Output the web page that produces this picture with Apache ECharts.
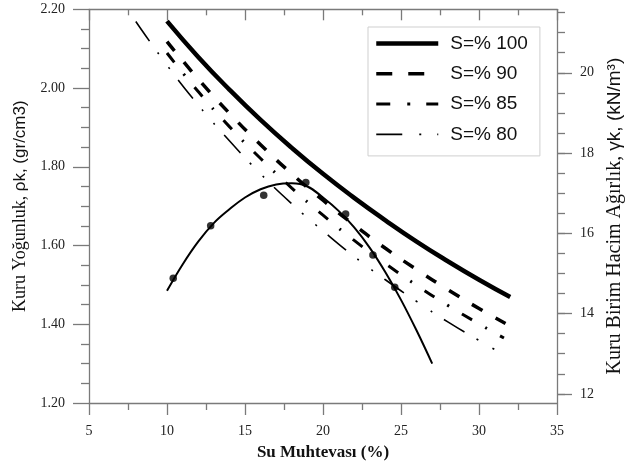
<!DOCTYPE html>
<html>
<head>
<meta charset="utf-8">
<script src="https://cdn.jsdelivr.net/npm/echarts@6/dist/echarts.min.js"></script>
<style>html,body{margin:0;padding:0;background:#fff;}#c{width:627px;height:461px;}</style>
</head>
<body>
<div id="c"></div>
<script>
// ---- data ----
var seriesNames = ['S=% 100', 'S=% 90', 'S=% 85', 'S=% 80'];

var wS100   = [10, 12, 14, 16, 18, 20, 22, 24, 26, 28, 30, 32];
var rhoS100 = [2.170, 2.079, 1.996, 1.919, 1.848, 1.782, 1.721, 1.664, 1.610, 1.560, 1.513, 1.469];

var wS90    = [10, 12, 14, 16, 18, 20, 22, 24, 26, 28, 30, 31.7];
var rhoS90  = [2.118, 2.023, 1.936, 1.856, 1.782, 1.715, 1.652, 1.593, 1.539, 1.488, 1.440, 1.402];

var wS85    = [10, 12, 14, 16, 18, 20, 22, 24, 26, 28, 30, 31.6];
var rhoS85  = [2.089, 1.991, 1.902, 1.821, 1.746, 1.677, 1.613, 1.554, 1.499, 1.448, 1.401, 1.365];

var wS80    = [8, 10, 12, 14, 16, 18, 20, 22, 24, 26, 28, 30, 31];
var rhoS80  = [2.169, 2.058, 1.957, 1.866, 1.782, 1.706, 1.637, 1.572, 1.513, 1.458, 1.406, 1.359, 1.336];

// compaction curve (fitted line) and measured points
var wCurve   = [10, 11, 12, 13, 14, 15, 16, 17, 18, 19, 20, 21, 22, 23, 24, 25, 26, 27];
var rhoCurve = [1.485, 1.552, 1.610, 1.657, 1.692, 1.722, 1.743, 1.755, 1.758, 1.750, 1.722, 1.688, 1.646, 1.594, 1.532, 1.462, 1.384, 1.300];

var wPts   = [10.4, 12.8, 16.2, 18.9, 21.45, 23.2, 24.6];
var rhoPts = [1.517, 1.650, 1.728, 1.760, 1.680, 1.576, 1.494];

var xTicks = [5, 10, 15, 20, 25, 30, 35];
var yLeftTicks = [1.20, 1.40, 1.60, 1.80, 2.00, 2.20];
var yRightTicks = [12, 14, 16, 18, 20];
var yRightMinor = [12, 12.5, 13, 13.5, 14, 14.5, 15, 15.5, 16, 16.5, 17, 17.5, 18, 18.5, 19, 19.5, 20, 20.5, 21, 21.5];

function pairs(xs, ys) { return xs.map(function (x, i) { return [x, ys[i]]; }); }

var axisGray = '#7a7a7a';
var serif = '"Liberation Serif","Times New Roman",serif';
var sans = '"Liberation Sans",Arial,sans-serif';
var rhoMin = 1.2, rhoMax = 2.2, g = 9.81;

var seriesStyles = [
  { width: 4.5, type: 'solid' },
  { width: 3.5, type: [12, 15] },
  { width: 3, type: [12, 15, 2, 15] },
  { width: 1.6, type: [24, 14, 2, 16, 2, 14] }
];
var legendStyles = [
  { width: 4.5, type: 'solid' },
  { width: 3.5, type: [16, 16] },
  { width: 3, type: [14, 17, 3, 16] },
  { width: 1.6, type: [26, 17, 2, 16, 2, 20] }
];

var chart = echarts.init(document.getElementById('c'));
chart.setOption({
  animation: false,
  backgroundColor: '#fff',
  grid: { left: 89, right: 70, top: 9.3, bottom: 58, containLabel: false, outerBoundsMode: 'none' },
  legend: {
    data: seriesNames.map(function (n, i) {
      return { name: n, lineStyle: { width: legendStyles[i].width, type: legendStyles[i].type, color: '#000' },
               itemStyle: { opacity: 0 } };
    }),
    orient: 'vertical',
    left: 368, top: 27,
    padding: [7, 12, 12, 6],
    itemWidth: 62, itemHeight: 14, itemGap: 11.3,
    borderColor: '#cfcfcf', borderWidth: 1,
    backgroundColor: '#fff',
    itemStyle: { opacity: 0 },
    textStyle: { fontFamily: sans, fontSize: 19, color: '#111', padding: [0, 0, 0, 7] }
  },
  xAxis: [{
    type: 'value', min: xTicks[0], max: xTicks[xTicks.length - 1], interval: 5,
    name: 'Su Muhtevası (%)', nameLocation: 'middle', nameGap: 41,
    nameTextStyle: { fontFamily: serif, fontSize: 17, fontWeight: 'bold', color: '#111' },
    axisLine: { lineStyle: { color: axisGray, width: 1.3 } },
    axisTick: { length: 12, lineStyle: { color: axisGray, width: 1.3 } },
    minorTick: { show: true, splitNumber: 2, length: 7, lineStyle: { color: axisGray, width: 1.3 } },
    axisLabel: { fontFamily: serif, fontSize: 14, color: '#222', margin: 21 },
    splitLine: { show: false }
  }, {
    type: 'value', position: 'top', min: xTicks[0], max: xTicks[xTicks.length - 1], interval: 5,
    axisLine: { lineStyle: { color: axisGray, width: 1.3 } },
    axisTick: { inside: true, length: 11, lineStyle: { color: axisGray, width: 1.3 } },
    minorTick: { show: true, splitNumber: 2, length: 6, lineStyle: { color: axisGray, width: 1.3 } },
    axisLabel: { show: false },
    splitLine: { show: false }
  }],
  yAxis: [{
    type: 'value', position: 'left', min: rhoMin, max: rhoMax, interval: 0.2,
    name: '{a|Kuru Yoğunluk, }{b|ρk, (gr/cm3)}', nameLocation: 'middle', nameGap: 58, nameRotate: 90,
    nameTextStyle: { rich: {
      a: { fontFamily: serif, fontSize: 18, color: '#111' },
      b: { fontFamily: sans, fontSize: 17, color: '#111' } } },
    axisLine: { lineStyle: { color: axisGray, width: 1.3 } },
    axisTick: { length: 16, lineStyle: { color: axisGray, width: 1.3 } },
    minorTick: { show: true, splitNumber: 4, length: 8, lineStyle: { color: axisGray, width: 1.3 } },
    axisLabel: { fontFamily: serif, fontSize: 14, color: '#222', margin: 24,
      formatter: function (v) { return v.toFixed(2); } },
    splitLine: { show: false }
  }, {
    type: 'value', position: 'right', min: rhoMin * g, max: rhoMax * g,
    name: '{a|Kuru Birim Hacim Ağırlık, }{b|γk, (kN/m³)}', nameLocation: 'middle', nameGap: 45, nameRotate: 90,
    nameTextStyle: { padding: [0, 20, 0, 0], rich: {
      a: { fontFamily: serif, fontSize: 20, color: '#111' },
      b: { fontFamily: sans, fontSize: 19, color: '#111' } } },
    axisLine: { lineStyle: { color: axisGray, width: 1.3 } },
    axisTick: { length: 15, customValues: yRightTicks, lineStyle: { color: axisGray, width: 1.3 } },
    axisLabel: { fontFamily: serif, fontSize: 14, color: '#222', margin: 23, customValues: yRightTicks },
    splitLine: { show: false }
  }, {
    type: 'value', position: 'right', min: rhoMin * g, max: rhoMax * g,
    axisLine: { show: false },
    axisTick: { length: 8, customValues: yRightMinor, lineStyle: { color: axisGray, width: 1.3 } },
    axisLabel: { show: false },
    splitLine: { show: false }
  }],
  series: [
    { wArr: wS100, rArr: rhoS100 }, { wArr: wS90, rArr: rhoS90 },
    { wArr: wS85, rArr: rhoS85 }, { wArr: wS80, rArr: rhoS80 }
  ].map(function (s, i) {
    return {
      name: seriesNames[i], type: 'line', data: pairs(s.wArr, s.rArr), smooth: true,
      showSymbol: false, symbol: 'none',
      lineStyle: { color: '#000', width: seriesStyles[i].width, type: seriesStyles[i].type },
      itemStyle: { color: '#000' }
    };
  }).concat([{
    name: 'curve', type: 'line', data: pairs(wCurve, rhoCurve), smooth: 0.4,
    showSymbol: false, symbol: 'none', lineStyle: { color: '#000', width: 2 }
  }, {
    name: 'points', type: 'scatter', data: pairs(wPts, rhoPts),
    symbol: 'circle', symbolSize: 7.5, itemStyle: { color: '#000' }
  }])
});
</script>
</body>
</html>
